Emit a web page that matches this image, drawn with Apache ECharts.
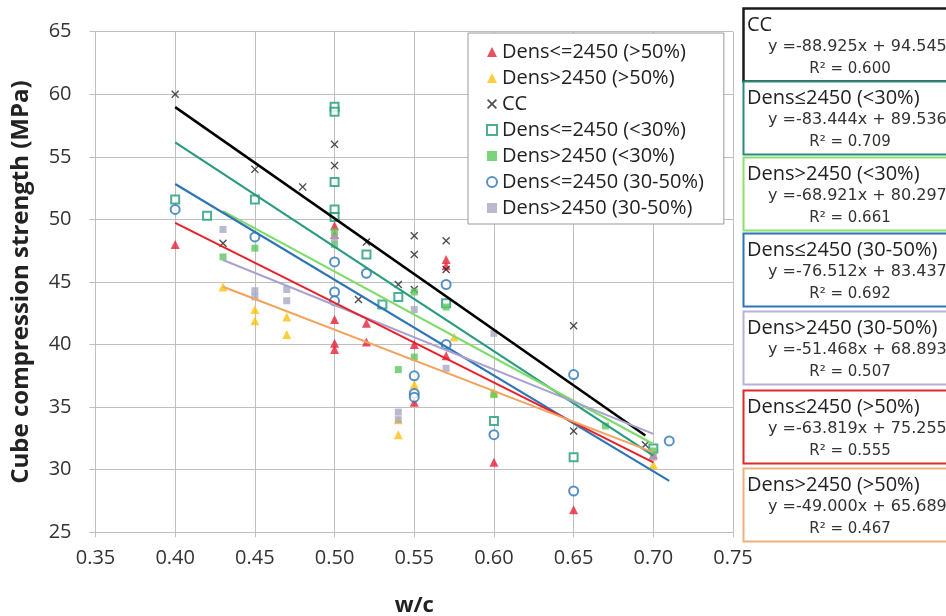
<!DOCTYPE html>
<html><head><meta charset="utf-8">
<script src="https://cdn.jsdelivr.net/npm/echarts@6/dist/echarts.min.js"></script>
<style>html,body{margin:0;padding:0;background:#fff}#c{width:946px;height:616px}</style>
</head><body><div id="c"></div>
<script>
// ---- data ----
const xTicks = [0.35,0.40,0.45,0.50,0.55,0.60,0.65,0.70,0.75];
const yTicks = [25,30,35,40,45,50,55,60,65];

const seriesNames = ['Dens<=2450 (>50%)','Dens>2450 (>50%)','CC','Dens<=2450 (<30%)','Dens>2450 (<30%)','Dens<=2450 (30-50%)','Dens>2450 (30-50%)'];

const redX = [0.40,0.50,0.50,0.50,0.50,0.50,0.52,0.52,0.55,0.55,0.57,0.57,0.57,0.60,0.65,0.70];
const redY = [48.0,49.5,48.8,42.0,40.1,39.6,41.7,40.2,40.0,35.4,46.8,46.3,39.1,30.6,26.8,31.2];

const yelX = [0.43,0.45,0.45,0.47,0.47,0.54,0.54,0.55,0.575,0.60,0.70];
const yelY = [44.6,42.8,41.9,42.2,40.8,34.0,32.8,36.8,40.6,36.2,30.4];

const ccX = [0.40,0.43,0.45,0.48,0.50,0.50,0.515,0.52,0.54,0.55,0.55,0.55,0.57,0.57,0.65,0.65,0.695];
const ccY = [60.0,48.1,54.0,52.6,56.0,54.3,43.6,48.2,44.8,48.7,47.2,44.4,48.3,46.0,41.5,33.1,32.0];

const tealX = [0.40,0.42,0.45,0.50,0.50,0.50,0.50,0.50,0.52,0.53,0.54,0.57,0.60,0.65,0.70];
const tealY = [51.6,50.3,51.6,59.0,58.6,53.0,50.8,50.2,47.2,43.2,43.8,43.3,33.9,31.0,31.7];

const grnX = [0.43,0.45,0.50,0.50,0.54,0.55,0.55,0.57,0.60,0.67,0.70];
const grnY = [47.0,47.7,49.0,48.0,38.0,39.0,44.2,43.0,36.0,33.5,31.5];

const bluX = [0.40,0.45,0.50,0.50,0.50,0.52,0.55,0.55,0.55,0.57,0.57,0.60,0.65,0.65,0.71];
const bluY = [50.8,48.6,46.6,44.2,43.5,45.7,37.5,36.1,35.8,44.8,40.0,32.8,37.6,28.3,32.3];

const grayX = [0.43,0.45,0.45,0.47,0.47,0.50,0.54,0.54,0.55,0.57,0.60,0.70];
const grayY = [49.2,44.3,43.8,44.4,43.5,48.5,34.6,34.0,42.8,38.1,40.9,31.0];

// trend lines (equations printed on the chart)
const trendTitles = ['CC','Dens\u22642450 (<30%)','Dens>2450 (<30%)','Dens\u22642450 (30-50%)','Dens>2450 (30-50%)','Dens\u22642450 (>50%)','Dens>2450 (>50%)'];
const trendSlopes = [-88.925,-83.444,-68.921,-76.512,-51.468,-63.819,-49.000];
const trendIntercepts = [94.545,89.536,80.297,83.437,68.893,75.255,65.689];
const trendR2 = [0.600,0.709,0.661,0.692,0.507,0.555,0.467];
const trendStart = [0.40,0.40,0.43,0.40,0.43,0.40,0.43];
const trendEnd = [0.695,0.70,0.70,0.71,0.70,0.70,0.70];

// ---- styling ----
const trendColors = ['#000000','#2a9a80','#7fdc6a','#2e75b6','#a9a2cf','#e8202c','#f2a35e'];
const trendWidths = [2.5,2.2,2.2,2.2,2,2,2];
const boxBorders = ['#1a1a1a','#2a8a78','#8ee06e','#2e75b6','#b9b0d8','#e02a2a','#f0b07a'];
const FONT = '"Open Sans", "Noto Sans", sans-serif';
const WFONT = '"DejaVu Sans", sans-serif';

const X_PATH = 'path://M0,1.2L1.2,0L5,3.8L8.8,0L10,1.2L6.2,5L10,8.8L8.8,10L5,6.2L1.2,10L0,8.8L3.8,5Z';

function pts(xs, ys){ return xs.map((x,i)=>[x, ys[i]]); }

const markerDefs = [
  {x:redX, y:redY, symbol:'triangle', size:9, style:{color:'#e8203a'}},
  {x:yelX, y:yelY, symbol:'triangle', size:9, style:{color:'#ffc20e'}},
  {x:ccX, y:ccY, symbol:X_PATH, size:8, style:{color:'#222'}},
  {x:tealX, y:tealY, symbol:'rect', size:8, style:{color:'#ffffff', borderColor:'#1f9a78', borderWidth:2}},
  {x:grnX, y:grnY, symbol:'rect', size:7, style:{color:'#5cc85c'}},
  {x:bluX, y:bluY, symbol:'circle', size:9, style:{color:'#ffffff', borderColor:'#2e75b6', borderWidth:2}},
  {x:grayX, y:grayY, symbol:'rect', size:7, style:{color:'#a8a8c4'}}
];

const series = [];
markerDefs.forEach((m,i)=>{
  series.push({
    name: seriesNames[i], type:'scatter', symbol:m.symbol, symbolSize:m.size,
    itemStyle: m.style, data: pts(m.x, m.y), z:3, emphasis:{disabled:true}
  });
});
trendSlopes.forEach((s,i)=>{
  const a = trendStart[i], b = trendEnd[i];
  series.push({
    type:'line', name:'trend'+i, symbol:'none', silent:true, z:4,
    lineStyle:{color:trendColors[i], width:trendWidths[i]},
    data:[[a, s*a+trendIntercepts[i]],[b, s*b+trendIntercepts[i]]]
  });
});

// equation boxes
const boxTops = [8,81,157,233,311,390,468];
const boxH = 73;
const graphic = [];
trendTitles.forEach((t,i)=>{
  const top = boxTops[i];
  const eq = 'y =' + trendSlopes[i].toFixed(3) + 'x + ' + trendIntercepts[i].toFixed(3);
  graphic.push(
    {type:'rect', z:10, shape:{x:743.5, y:top+0.5, width:230, height:boxH}, style:{fill:'#fff', stroke:boxBorders[i], lineWidth:i===0?2.5:2}},
    {type:'text', z:11, x:747, y:top+17, style:{text:t, font:'20px '+FONT, fill:'#222', textVerticalAlign:'middle'}},
    {type:'text', z:11, x:768, y:top+39, style:{text:eq, font:'16px '+WFONT, fill:'#333', textVerticalAlign:'middle'}},
    {type:'text', z:11, x:850, y:top+61, style:{text:'R\u00b2 = '+trendR2[i].toFixed(3), font:'15px '+WFONT, fill:'#333', textAlign:'center', textVerticalAlign:'middle'}}
  );
});

const chart = echarts.init(document.getElementById('c'), null, {renderer:'canvas'});
chart.setOption({
  animation:false,
  backgroundColor:'#fff',
  textStyle:{fontFamily:FONT},
  grid:{left:95.5, right:213, top:31.7, bottom:83.7, show:false, outerBoundsMode:'none', containLabel:false},
  legend:{
    data: seriesNames, orient:'vertical', left:468, top:33,
    itemWidth:10, itemHeight:10, itemGap:6,
    padding:[9,20,6,18],
    backgroundColor:'#fff', borderColor:'#999', borderWidth:1,
    textStyle:{fontSize:20, color:'#222', fontFamily:FONT, lineHeight:20}
  },
  xAxis:{
    type:'value', min:xTicks[0], max:xTicks[xTicks.length-1], interval:0.05,
    name:'w/c', nameLocation:'middle', nameGap:62,
    nameTextStyle:{fontSize:22, fontWeight:'bold', color:'#222'},
    axisLine:{show:true, onZero:false, lineStyle:{color:'#bfbfbf'}},
    axisTick:{show:true, length:5, lineStyle:{color:'#bfbfbf'}},
    axisLabel:{fontSize:20, color:'#333', margin:16, formatter:v=>v.toFixed(2)},
    splitLine:{show:true, lineStyle:{color:'#bfbfbf', width:1}}
  },
  yAxis:{
    type:'value', min:yTicks[0], max:yTicks[yTicks.length-1], interval:5,
    name:'Cube compression strength (MPa)', nameLocation:'middle', nameGap:62,
    nameTextStyle:{fontSize:24, fontWeight:'bold', color:'#222'},
    axisLine:{show:true, lineStyle:{color:'#bfbfbf'}},
    axisTick:{show:true, length:6, lineStyle:{color:'#bfbfbf'}},
    axisLabel:{fontSize:20, color:'#333', margin:24},
    splitLine:{show:true, lineStyle:{color:'#bfbfbf', width:1}}
  },
  graphic: graphic,
  series: series
});
</script></body></html>
